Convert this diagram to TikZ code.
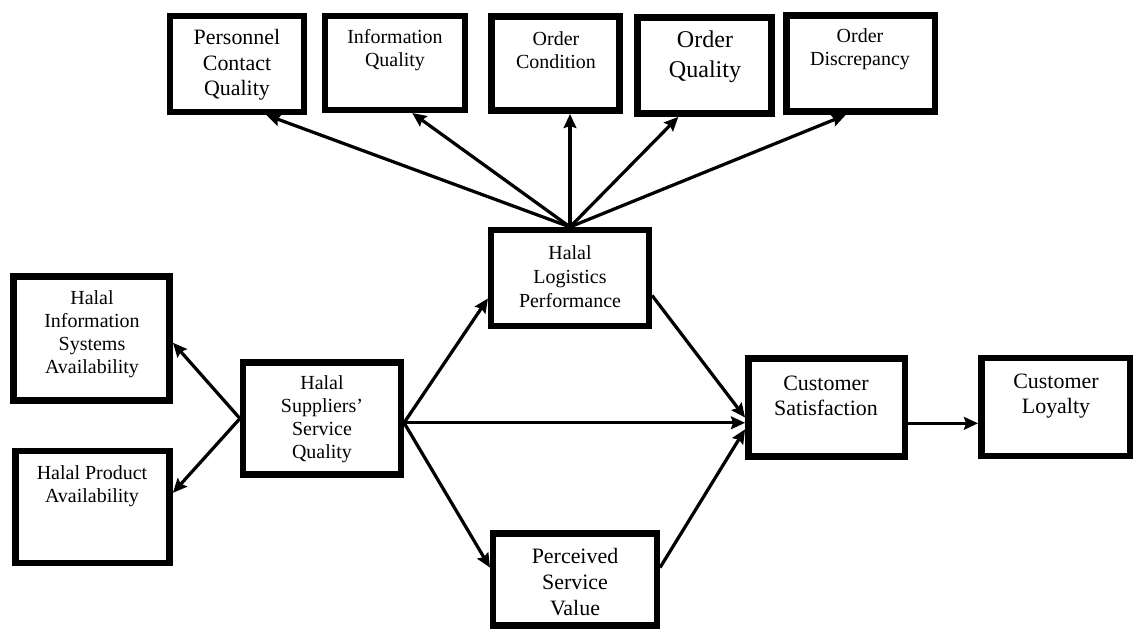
\documentclass[tikz,border=0pt]{standalone}
\usepackage{fontspec}
\setmainfont{Liberation Serif}
\usetikzlibrary{shapes,arrows,arrows.meta,positioning,calc}

\begin{document}
\begin{tikzpicture}[
    x=0.025cm, y=-0.025cm,
    box/.style={rectangle, draw=black, line width=4.6pt, inner sep=0pt},
    lbl/.style={align=center, inner sep=0pt, font=\fontsize{14.2}{16.3}\selectfont},
    big/.style={font=\fontsize{15.6}{18.2}\selectfont},
    arrow/.style={-{Stealth[length=10pt,width=9pt,inset=1.5pt]}, line width=2.3pt}
]
\useasboundingbox (0,0) rectangle (1135,631);

% Logistics performance dimensions
\node[box, minimum width=3.34cm, minimum height=2.39cm] (pcq) at (237,64) {};
\node[box, minimum width=3.49cm, minimum height=2.34cm] (iq) at (395,63) {};
\node[box, minimum width=3.21cm, minimum height=2.36cm] (oc) at (555.5,63.5) {};
\node[box, minimum width=3.36cm, minimum height=2.41cm] (oq) at (704.5,65.5) {};
\node[box, minimum width=3.71cm, minimum height=2.41cm] (od) at (860.5,63.5) {};

\node[lbl, big] (pcq-t) at (237,65) {Personnel\\Contact\\Quality};
\node[lbl] (iq-t) at (395,50) {Information\\Quality};
\node[lbl] (oc-t) at (556,50) {Order\\Condition};
\node[lbl, font=\fontsize{17.1}{21.3}\selectfont] (oq-t) at (705,57) {Order\\Quality};
\node[lbl] (od-t) at (860,49) {Order\\Discrepancy};

% Supplier side
\node[box, minimum width=3.91cm, minimum height=3.11cm] (hisa) at (91.5,338.5) {};
\node[box, minimum width=3.86cm, minimum height=2.79cm] (hpa) at (92.5,507) {};
\node[box, minimum width=3.94cm, minimum height=2.81cm] (hssq) at (322,418.5) {};

\node[lbl] (hisa-t) at (92,334) {Halal\\Information\\Systems\\Availability};
\node[lbl] (hpa-t) at (92,486) {Halal Product\\Availability};
\node[lbl] (hssq-t) at (322,419) {Halal\\Suppliers’\\Service\\Quality};

% Mediators and outcomes
\node[box, minimum width=3.94cm, minimum height=2.39cm] (hlp) at (570,278) {};
\node[box, minimum width=4.09cm, minimum height=2.31cm] (psv) at (575,579.5) {};
\node[box, minimum width=3.91cm, minimum height=2.46cm] (cs) at (826.5,407.5) {};
\node[box, minimum width=3.71cm, minimum height=2.44cm] (cl) at (1055.5,407) {};

\node[lbl, font=\fontsize{14.2}{17}\selectfont] (hlp-t) at (570,277) {Halal\\Logistics\\Performance};
\node[lbl, big] (psv-t) at (575,582) {Perceived\\Service\\Value};
\node[lbl, big] (cs-t) at (826,396) {Customer\\Satisfaction};
\node[lbl, big] (cl-t) at (1056,396) {Customer\\Loyalty};

% Arrows
\draw[arrow] (hlp.north) -- (pcq.-60);
\draw[arrow] (hlp.north) -- (iq.-71);
\draw[arrow] (hlp.north) -- (hlp.north |- oc.south);
\draw[arrow] (hlp.north) -- (oq.-117);
\draw[arrow] (hlp.north) -- (od.-106);

\draw[arrow] (hssq.west) -- (hisa.-3);
\draw[arrow] (hssq.west) -- (hpa.10);

\draw[arrow] (hssq.-3) -- (hlp.194);
\draw[arrow] (hssq.-3) -- (hssq.-3 -| cs.west);
\draw[arrow] (hssq.-3) -- (psv.172);

\draw[arrow] (hlp.-12) -- (cs.187);
\draw[arrow] (psv.8) -- (cs.195);
\draw[arrow] (cs.-11) -- (cs.-11 -| cl.west);

\end{tikzpicture}
\end{document}
